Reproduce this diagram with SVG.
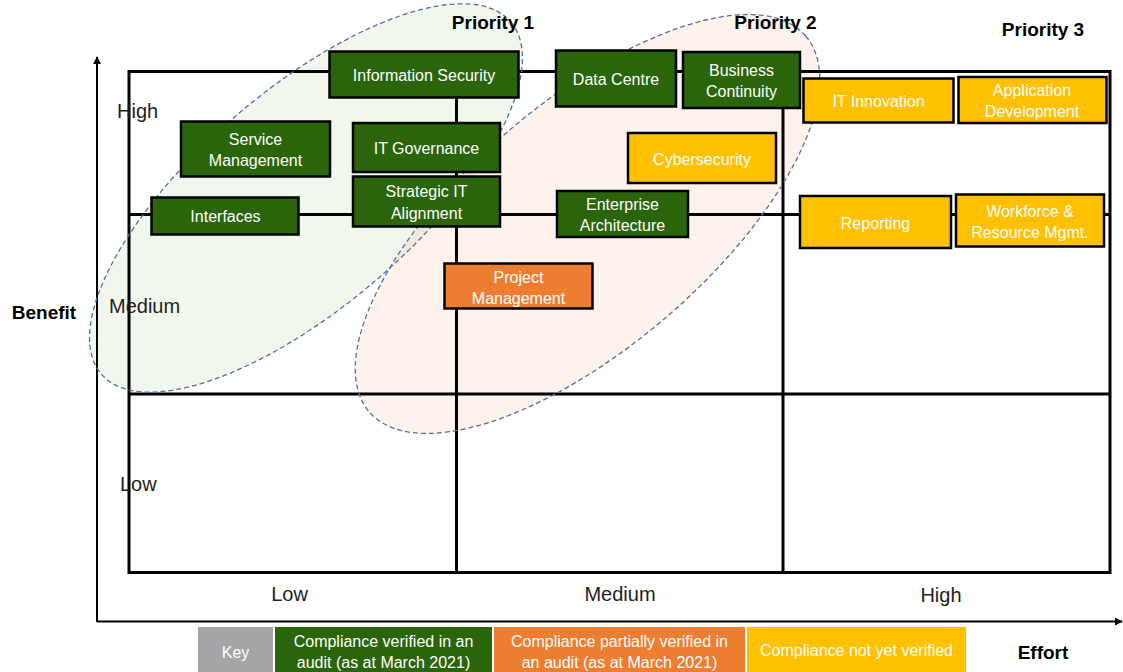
<svg xmlns="http://www.w3.org/2000/svg" width="1123" height="672" viewBox="0 0 1123 672">
<defs>
<marker id="arr" viewBox="0 0 10 10" refX="9" refY="5" markerWidth="4" markerHeight="4" orient="auto" markerUnits="strokeWidth">
<path d="M0,0 L10,5 L0,10 z" fill="#000"/>
</marker>
<style>
.g{fill:#2a650b;stroke:#000;stroke-width:2.5}
.o{fill:#ed7d31;stroke:#000;stroke-width:2.5}
.y{fill:#ffc000;stroke:#000;stroke-width:2.5}
.bt{font-family:"Liberation Sans",Arial,sans-serif;font-size:16px;fill:#fff;text-anchor:middle}
.ax{font-family:"Liberation Sans",Arial,sans-serif;font-size:20px;fill:#1e1e1e}
.axm{font-family:"Liberation Sans",Arial,sans-serif;font-size:20px;fill:#1e1e1e;text-anchor:middle}
.hd{font-family:"Liberation Sans",Arial,sans-serif;font-size:19px;font-weight:bold;fill:#000;text-anchor:middle}
.lg{font-family:"Liberation Sans",Arial,sans-serif;font-size:16px;fill:#fff;text-anchor:middle}
.grid{fill:none;stroke:#000;stroke-width:3}
.ell{stroke:#5a6f9c;stroke-width:1.3;stroke-dasharray:5 3}
</style>
</defs>
<rect width="1123" height="672" fill="#fff"/>

<g id="ellipse-fills">
<ellipse cx="306" cy="198" rx="270" ry="108" transform="rotate(-40.7 306 198)" fill="#70ad47" fill-opacity="0.1" stroke="none"/>
<ellipse cx="587.5" cy="224" rx="288" ry="122" transform="rotate(-40.75 587.5 224)" fill="#ed7d31" fill-opacity="0.09" stroke="none"/>
</g>

<g id="grid">
<rect class="grid" x="129" y="71.5" width="981" height="501"/>
<line class="grid" x1="456.5" y1="71.5" x2="456.5" y2="572.5"/>
<line class="grid" x1="783" y1="71.5" x2="783" y2="572.5"/>
<line class="grid" x1="129" y1="214.5" x2="1110" y2="214.5"/>
<line class="grid" x1="129" y1="394" x2="1110" y2="394"/>
</g>

<g id="axes">
<line x1="97" y1="622" x2="97" y2="57" stroke="#000" stroke-width="2" marker-end="url(#arr)"/>
<line x1="97" y1="621.5" x2="1122" y2="621.5" stroke="#000" stroke-width="2" marker-end="url(#arr)"/>
</g>

<g id="ellipse-outlines" fill="none">
<ellipse class="ell" cx="306" cy="198" rx="270" ry="108" transform="rotate(-40.7 306 198)"/>
<ellipse class="ell" cx="587.5" cy="224" rx="288" ry="122" transform="rotate(-40.75 587.5 224)"/>
</g>

<g id="labels">
<text class="ax" x="117" y="118">High</text>
<text class="ax" x="109" y="313">Medium</text>
<text class="ax" x="120" y="491">Low</text>
<text class="axm" x="289.5" y="601">Low</text>
<text class="axm" x="620" y="601">Medium</text>
<text class="axm" x="941" y="602">High</text>
<text class="hd" x="44" y="319">Benefit</text>
<text class="hd" x="493" y="29">Priority 1</text>
<text class="hd" x="775.5" y="29">Priority 2</text>
<text class="hd" x="1043" y="36">Priority 3</text>
<text class="hd" x="1043" y="659">Effort</text>
</g>

<g id="information-security"><rect class="g" x="329.5" y="51.5" width="189" height="46"/><text class="bt" x="424" y="81">Information Security</text></g>
<g id="service-management"><rect class="g" x="181" y="121.5" width="149" height="55"/><text class="bt" x="255.5" y="144.5">Service</text><text class="bt" x="255.5" y="165.5">Management</text></g>
<g id="it-governance"><rect class="g" x="353" y="123" width="147" height="49"/><text class="bt" x="426.5" y="153.5">IT Governance</text></g>
<g id="strategic-it-alignment"><rect class="g" x="353" y="176.5" width="147" height="50"/><text class="bt" x="426.5" y="196.5">Strategic IT</text><text class="bt" x="426.5" y="218.5">Alignment</text></g>
<g id="interfaces"><rect class="g" x="151.5" y="197.5" width="147" height="37"/><text class="bt" x="225.5" y="221.5">Interfaces</text></g>
<g id="data-centre"><rect class="g" x="556" y="50.5" width="120" height="56"/><text class="bt" x="616" y="84.5">Data Centre</text></g>
<g id="business-continuity"><rect class="g" x="683" y="52" width="117" height="56"/><text class="bt" x="741.5" y="75.5">Business</text><text class="bt" x="741.5" y="96.5">Continuity</text></g>
<g id="cybersecurity"><rect class="y" x="628" y="133" width="148" height="50"/><text class="bt" x="702" y="164.5">Cybersecurity</text></g>
<g id="enterprise-architecture"><rect class="g" x="557" y="191" width="131" height="46"/><text class="bt" x="622.5" y="209.5">Enterprise</text><text class="bt" x="622.5" y="230.5">Architecture</text></g>
<g id="project-management"><rect class="o" x="444.5" y="263.5" width="148" height="45"/><text class="bt" x="518.5" y="282.5">Project</text><text class="bt" x="518.5" y="303.5">Management</text></g>
<g id="it-innovation"><rect class="y" x="803.5" y="78.5" width="150" height="44"/><text class="bt" x="878.5" y="106.5">IT Innovation</text></g>
<g id="application-development"><rect class="y" x="958.5" y="77" width="148" height="46"/><text class="bt" x="1032" y="95.5">Application</text><text class="bt" x="1032" y="116.5">Development</text></g>
<g id="reporting"><rect class="y" x="800" y="196" width="151" height="52"/><text class="bt" x="875.5" y="228.5">Reporting</text></g>
<g id="workforce-resource-mgmt"><rect class="y" x="956" y="194.5" width="148" height="52"/><text class="bt" x="1030" y="216.5">Workforce &amp;</text><text class="bt" x="1030" y="237.5">Resource Mgmt.</text></g>

<g id="legend">
<rect x="198" y="627" width="75" height="45" fill="#a5a5a5"/>
<text class="lg" x="235.5" y="658">Key</text>
<rect x="275" y="627" width="217" height="45" fill="#2a650b"/>
<text class="lg" x="383.5" y="647">Compliance verified in an</text>
<text class="lg" x="383.5" y="668">audit (as at March 2021)</text>
<rect x="494" y="627" width="251" height="45" fill="#ed7d31"/>
<text class="lg" x="619.5" y="647">Compliance partially verified in</text>
<text class="lg" x="619.5" y="668">an audit (as at March 2021)</text>
<rect x="747" y="627" width="219" height="45" fill="#ffc000"/>
<text class="lg" x="856.5" y="656">Compliance not yet verified</text>
</g>
</svg>
